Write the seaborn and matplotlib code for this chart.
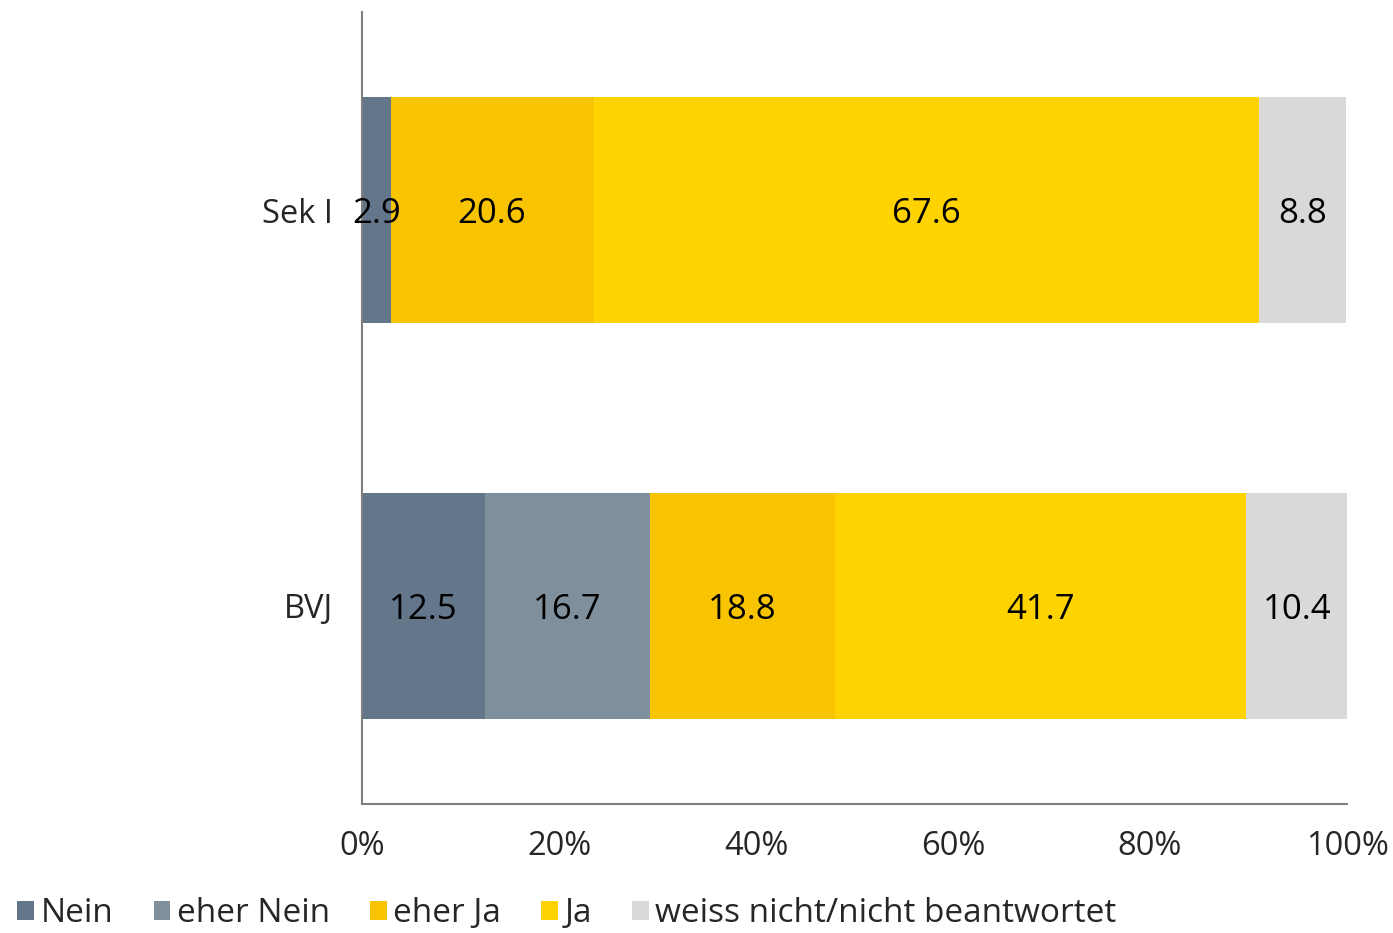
import numpy as np
import pandas as pd
import matplotlib.pyplot as plt
import seaborn as sns
from matplotlib.patches import Patch

sns.set_theme(style='white')
plt.rcParams['font.family'] = ['Open Sans', 'DejaVu Sans']

# --- data ---
groups = ['Sek I', 'BVJ']
answers = ['Nein', 'eher Nein', 'eher Ja', 'Ja', 'weiss nicht/nicht beantwortet']
sek1 = [2.9, 0.0, 20.6, 67.6, 8.8]
bvj = [12.5, 16.7, 18.8, 41.7, 10.4]
colors = ['#64768A', '#7F909C', '#F8C300', '#FFD300', '#D9D9D9']

df = pd.DataFrame([sek1, bvj], index=groups, columns=answers)
cum = df.cumsum(axis=1)

fig = plt.figure(figsize=(13.93, 9.33), dpi=100)
ax = fig.add_axes([0.2599, 0.1383, 0.7071, 0.8488])

# stacked bars: draw the cumulative totals from the longest down
for i in range(len(answers) - 1, -1, -1):
    col = answers[i]
    sns.barplot(x=cum[col].values, y=groups, orient='h', color=colors[i],
                saturation=1, width=0.57, linewidth=0, ax=ax)

# value labels in the middle of each segment
for g_i, g in enumerate(groups):
    left = 0
    for a in answers:
        v = df.loc[g, a]
        if v > 0:
            ax.text(left + v / 2, g_i, f'{v:.1f}', ha='center', va='center_baseline',
                    fontsize=25, color='black')
        left += v

ax.set_xlim(0, 100)
ax.set_ylim(1.5, -0.5)
ax.set_xticks(np.arange(0, 101, 20))
ax.set_xticklabels([f'{t}%' for t in range(0, 101, 20)], fontsize=23.5)
ax.tick_params(axis='x', pad=19, length=0)
ax.tick_params(axis='y', pad=21, length=0, labelsize=23.5)
for lbl in ax.get_yticklabels():
    lbl.set_verticalalignment('center_baseline')
ax.set_xlabel('')
ax.set_ylabel('')
for s in ['top', 'right']:
    ax.spines[s].set_visible(False)
for s in ['left', 'bottom']:
    ax.spines[s].set_color('#808080')
    ax.spines[s].set_linewidth(1.5)

handles = [Patch(facecolor=c, edgecolor='none') for c in colors]
fig.legend(handles, answers, loc='lower left', bbox_to_anchor=(-0.009, -0.029),
           ncol=5, frameon=False, fontsize=24, handlelength=0.5, handleheight=0.5,
           handletextpad=0.2, columnspacing=1.2)

plt.savefig('out.png', dpi=100)
